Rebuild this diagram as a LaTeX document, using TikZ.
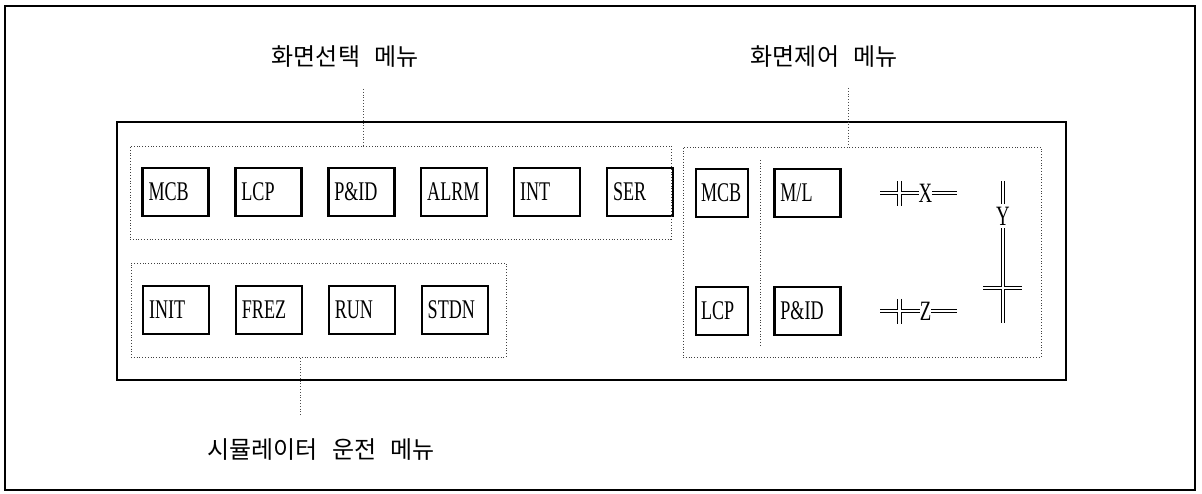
\documentclass[tikz,border=0pt]{standalone}
\usepackage{fontspec}
\setmainfont{Liberation Serif}
\newfontfamily\hangul{Noto Sans CJK KR}
\newfontfamily\boxfont[FakeStretch=0.67]{Liberation Serif}
\usetikzlibrary{positioning,fit}

\begin{document}
\begin{tikzpicture}[
    x=1pt, y=-1pt,
    key/.style={
        rectangle,
        draw=black,
        line width=2.4pt,
        font=\boxfont\fontsize{27}{27}\selectfont,
        text width=54pt,
        align=left,
        inner xsep=6pt,
        minimum height=48pt
    },
    narrowkey/.style={key, text width=42pt, inner xsep=5pt},
    grp/.style={draw=black!75, dotted, line width=0.8pt, inner sep=0pt},
    leader/.style={draw=black!70, dotted, line width=0.8pt},
    frame/.style={draw=black, line width=1.5pt},
    title/.style={font=\hangul\fontsize{24}{24}\selectfont},
    sym/.style={font=\boxfont\fontsize{28}{28}\selectfont, inner xsep=0pt, inner ysep=3pt},
    dline/.style={double, double distance=2.6pt, line width=1.1pt}
]
\useasboundingbox (0,0) rectangle (1202,494);

% frames
\draw[frame] (5,6) rectangle (1195,490);
\draw[frame] (117,122) rectangle (1066,380);

% titles
\node[title] (seltitle) at (345,57) {화면선택\hspace{14pt}메뉴};
\node[title] (ctltitle) at (824,57) {화면제어\hspace{14pt}메뉴};
\node[title] (runtitle) at (321,450) {시뮬레이터\hspace{14pt}운전\hspace{14pt}메뉴};

% screen select menu
\node[key] (s1) at (175.5,192) {MCB};
\node[key, right=24.5pt of s1] (s2) {LCP};
\node[key, right=24.5pt of s2] (s3) {P\&ID};
\node[key, right=24.5pt of s3] (s4) {ALRM};
\node[key, right=24.5pt of s4] (s5) {INT};
\node[key, right=24.5pt of s5] (s6) {SER};
\node[grp, fit={(130,146) (671,239)}] (selgrp) {};

% simulator run menu
\node[key] (r1) at (176,310) {INIT};
\node[key, right=24.5pt of r1] (r2) {FREZ};
\node[key, right=24.5pt of r2] (r3) {RUN};
\node[key, right=24.5pt of r3] (r4) {STDN};
\node[grp, fit={(131,263) (506,357)}] (rungrp) {};

% screen control menu
\node[narrowkey] (c1) at (722,193) {MCB};
\node[narrowkey] (c2) at (722,311) {LCP};
\node[key, right=24pt of c1] (c3) {M/L};
\node[key, right=24pt of c2] (c4) {P\&ID};
\node[grp, fit={(683,147) (1041,357)}] (ctlgrp) {};
\draw[grp] (760,160) -- (760,345);

\node[sym] (xsym) at (925.5,193) {X};
\draw[dline] (880,193) -- (xsym.west) (899.5,181) -- (899.5,206);
\draw[dline] (xsym.east) -- (957,193);

\node[sym] (zsym) at (925.5,311) {Z};
\draw[dline] (880,311) -- (zsym.west) (899.5,299) -- (899.5,324);
\draw[dline] (zsym.east) -- (957,311);

\node[sym] (ysym) at (1003,216) {Y};
\draw[dline] (1003,181) -- (ysym.north);
\draw[dline] (ysym.south) -- (1003,323) (983,288) -- (1022,288);

% leaders
\coordinate (a1) at (363,89);
\coordinate (a2) at (848,88);
\coordinate (a3) at (300,415);
\draw[leader] (a1) -- (a1 |- selgrp.north);
\draw[leader] (a2) -- (a2 |- ctlgrp.north);
\draw[leader] (a3) -- (a3 |- rungrp.south);

\end{tikzpicture}
\end{document}
